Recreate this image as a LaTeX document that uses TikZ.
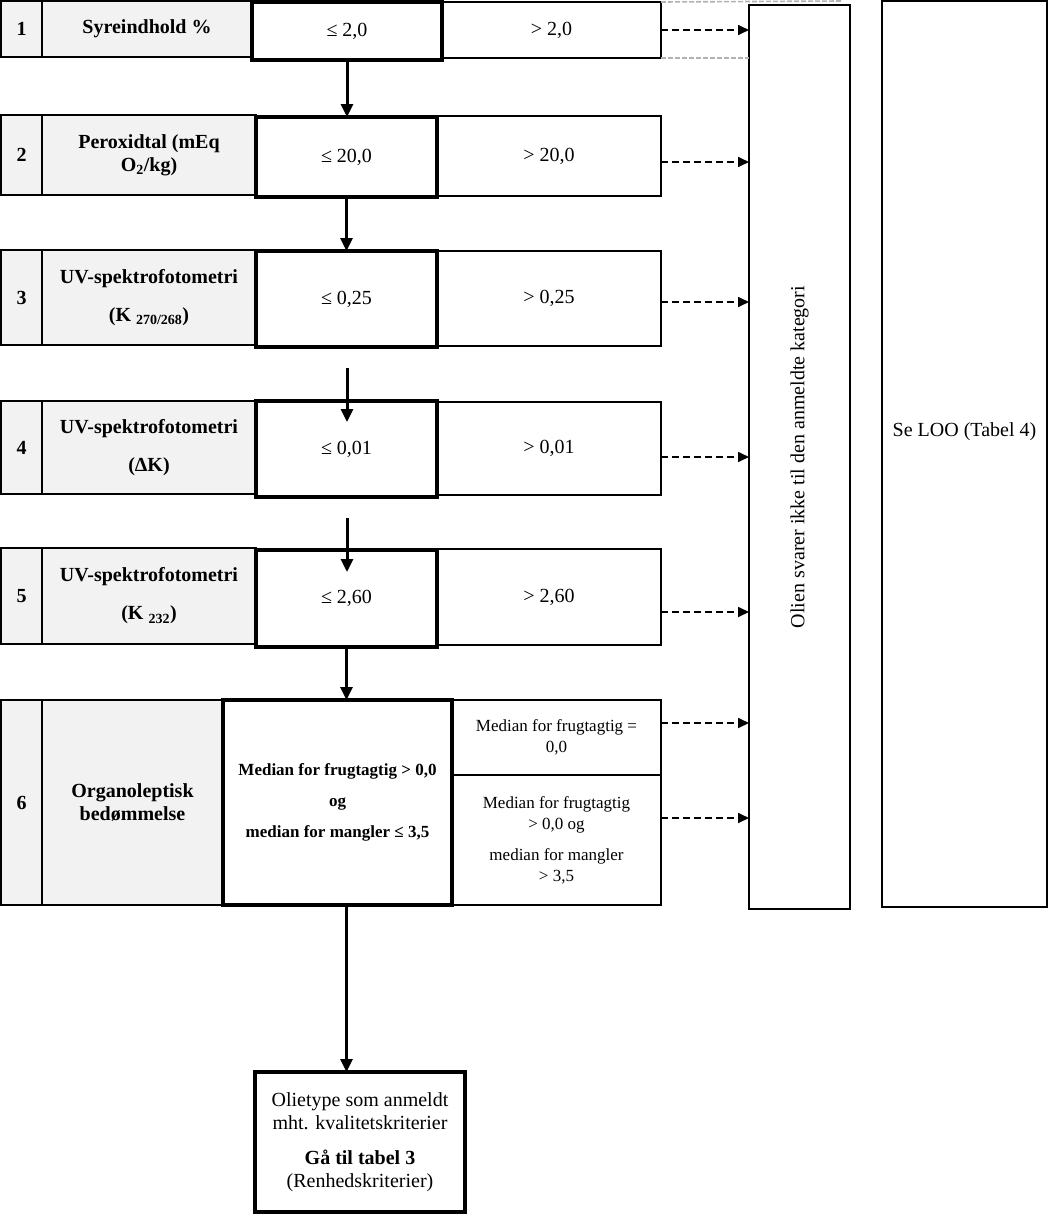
\documentclass[tikz,border=0pt]{standalone}
\usepackage{fontspec}
\setmainfont{Liberation Serif}
\usetikzlibrary{arrows.meta,calc}
\begin{document}
\begin{tikzpicture}[x=1pt,y=-1pt,
  cellbox/.style={draw, line width=1.5pt, inner sep=0pt, outer sep=0pt, align=center,
    font=\fontsize{20}{23}\selectfont},
  graycell/.style={cellbox, fill=black!5},
  thickbox/.style={cellbox, line width=3.8pt},
  smalltext/.style={font=\fontsize{17}{21}\selectfont},
  sidebox/.style={draw, line width=2pt, inner sep=0pt, outer sep=0pt, font=\fontsize{20}{23}\selectfont},
  flowarrow/.style={line width=3pt, -{Triangle[length=13pt,width=12pt]}},
  rejarrow/.style={line width=1.7pt, dash pattern=on 7pt off 4pt, -{Triangle[length=11pt,width=10pt]}},
  guide/.style={gray!60, line width=1.6pt, dash pattern=on 5pt off 2pt}]
\useasboundingbox (0,0) rectangle (1061,1216);

% side boxes
\node[sidebox, minimum width=101, minimum height=904] (olien) at (799.5,457)
  {\rotatebox{90}{Olien svarer ikke til den anmeldte kategori}};
\node[sidebox, minimum width=165, minimum height=906,
  label={[yshift=22pt,font=\fontsize{20}{23}\selectfont]center:Se LOO (Tabel 4)}] (seloo) at (964.5,454) {};

% row 1
\node[graycell, minimum width=41, minimum height=56] (n1) at (21.5,29) {\textbf{1}};
\node[graycell, minimum width=210, minimum height=56] (l1) at (147,29) {\textbf{Syreindhold \%}};
\node[cellbox, minimum width=219, minimum height=56] (g1) at (551.5,30) {> 2,0};
\node[thickbox, fill=white, minimum width=190, minimum height=58] (t1) at (347,31) {≤ 2,0};

% row 2
\node[graycell, minimum width=41, minimum height=80] (n2) at (21.5,155) {\textbf{2}};
\node[graycell, minimum width=214, minimum height=80] (l2) at (149,155) {\textbf{Peroxidtal (mEq}\\\textbf{O\textsubscript{2}/kg)}};
\node[cellbox, minimum width=224, minimum height=80] (g2) at (549,156) {> 20,0};
\node[thickbox, fill=white, minimum width=181, minimum height=80] (t2) at (346.5,157) {≤ 20,0};

% row 3
\node[graycell, minimum width=41, minimum height=95] (n3) at (21.5,297.5) {\textbf{3}};
\node[graycell, minimum width=214, minimum height=95] (l3) at (149,297.5)
  {\textbf{UV-spektrofotometri}\\[15pt]\textbf{(K \textsubscript{270/268})}};
\node[cellbox, minimum width=224, minimum height=95] (g3) at (549,298.5) {> 0,25};
\node[thickbox, fill=white, minimum width=181, minimum height=96] (t3) at (346.5,299) {≤ 0,25};

% row 4
\node[graycell, minimum width=41, minimum height=93] (n4) at (21.5,447.5) {\textbf{4}};
\node[graycell, minimum width=214, minimum height=93] (l4) at (149,447.5)
  {\textbf{UV-spektrofotometri}\\[15pt]\textbf{(ΔK)}};
\node[cellbox, minimum width=224, minimum height=93] (g4) at (549,448.5) {> 0,01};
\node[thickbox, fill=white, minimum width=181, minimum height=96] (t4) at (346.5,449) {≤ 0,01};

% row 5
\node[graycell, minimum width=41, minimum height=96] (n5) at (21.5,596) {\textbf{5}};
\node[graycell, minimum width=214, minimum height=96] (l5) at (149,596)
  {\textbf{UV-spektrofotometri}\\[15pt]\textbf{(K \textsubscript{232})}};
\node[cellbox, minimum width=224, minimum height=96] (g5) at (549,597) {> 2,60};
\node[thickbox, fill=white, minimum width=181, minimum height=97] (t5) at (346.5,598.5) {≤ 2,60};

% row 6
\node[graycell, minimum width=41, minimum height=205] (n6) at (21.5,802.5) {\textbf{6}};
\node[graycell, minimum width=181, minimum height=205] (l6) at (132.5,802.5)
  {\textbf{Organoleptisk}\\\textbf{bedømmelse}};
\node[cellbox, smalltext, minimum width=209, minimum height=75] (ga) at (556.5,737.5)
  {Median for frugtagtig =\\0,0};
\node[cellbox, smalltext, minimum width=209, minimum height=130] (gb) at (556.5,840)
  {Median for frugtagtig\\> 0,0 og\\[10pt]median for mangler\\> 3,5};
\node[thickbox, smalltext, fill=white, minimum width=229, minimum height=205] (t6) at (337.5,802.5)
  {\textbf{Median for frugtagtig > 0,0}\\[10pt]\textbf{og}\\[10pt]\textbf{median for mangler ≤ 3,5}};

% final box
\node[thickbox, minimum width=210, minimum height=140] (fin) at (360,1142)
  {Olietype som anmeldt\\mht. kvalitetskriterier\\[12pt]\textbf{Gå til tabel 3}\\(Renhedskriterier)};

% vertical flow arrows
\draw[flowarrow] (t1.south) -- (t1.south |- t2.north);
\draw[flowarrow] (t2.south) -- (t2.south |- t3.north);
\coordinate (s3) at (347,368);
\draw[flowarrow] (s3) -- (s3 |- {$(t4.north)+(0,21)$});
\coordinate (s4) at (347,518);
\draw[flowarrow] (s4) -- (s4 |- {$(t5.north)+(0,22)$});
\draw[flowarrow] (t5.south) -- (t5.south |- t6.north);
\draw[flowarrow] (t5.south |- t6.south) -- (t5.south |- fin.north);

% rejection arrows
\coordinate (r1) at ($(g1.east)+(0,0)$);
\coordinate (r2) at ($(g2.east)+(0,6)$);
\coordinate (r3) at ($(g3.east)+(0,3.5)$);
\coordinate (r4) at ($(g4.east)+(0,8.5)$);
\coordinate (r5) at ($(g5.east)+(0,15)$);
\coordinate (r6) at ($(ga.east)+(0,-14.5)$);
\coordinate (r7) at ($(gb.east)+(0,-22)$);
\foreach \r in {r1,r2,r3,r4,r5,r6,r7}
  \draw[rejarrow] (\r) -- (\r -| olien.west);

% gray guide lines
\coordinate (gtop) at (841,1);
\draw[guide] (g1.north east) -- (gtop);
\draw[guide] (g1.south east) -- (g1.south east -| olien.west);
\end{tikzpicture}
\end{document}
